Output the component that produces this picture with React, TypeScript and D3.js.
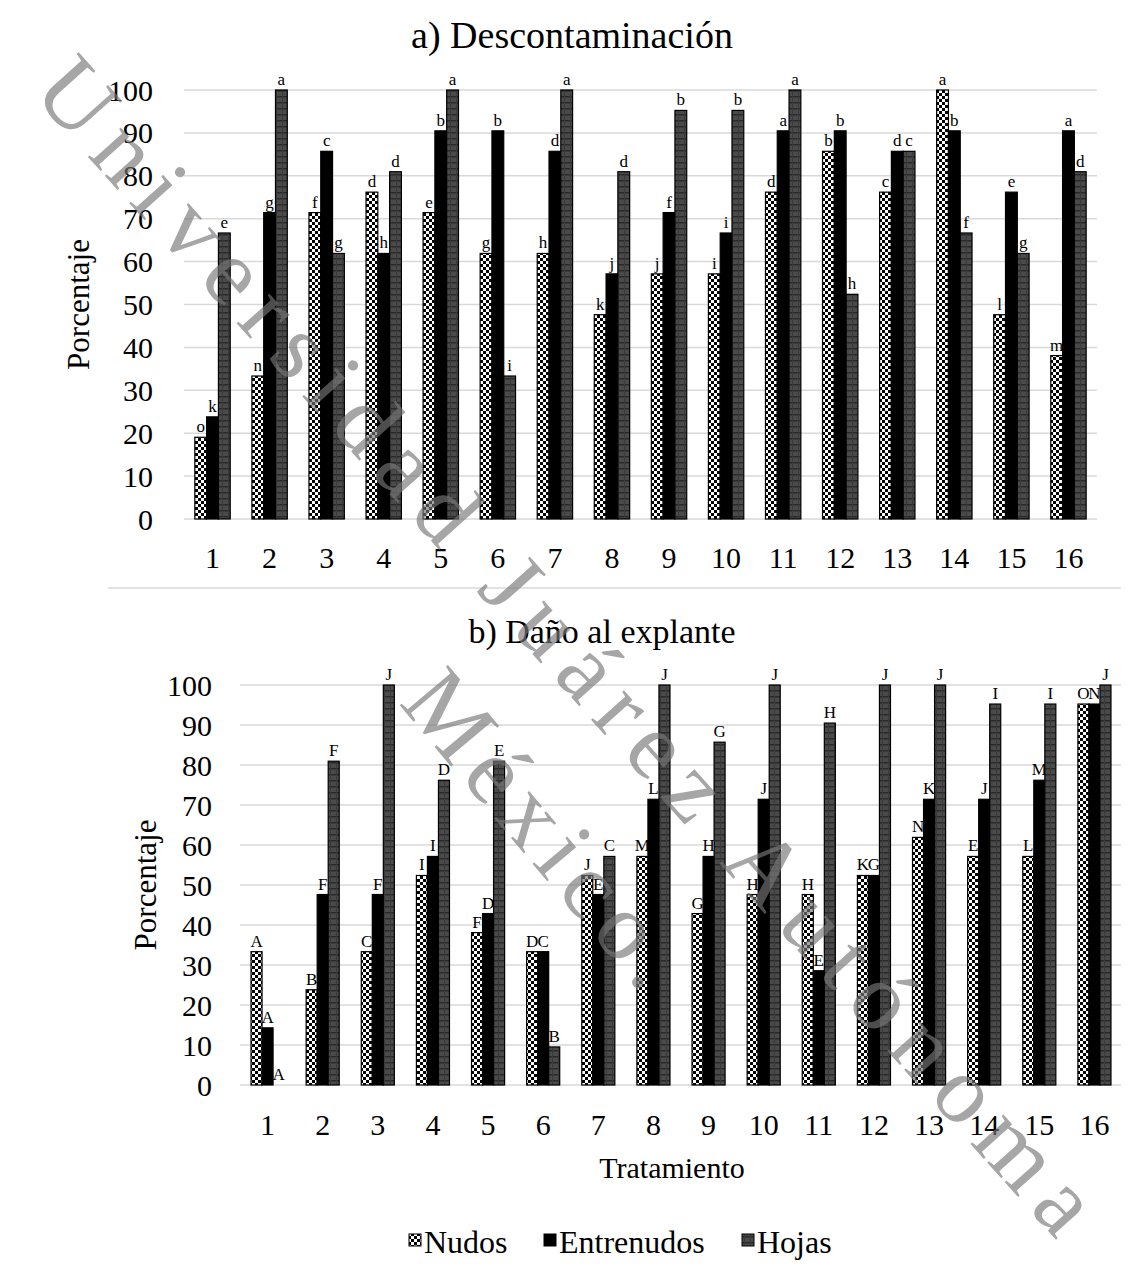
import React from 'react'
import * as d3 from 'd3'

const treatments = ['1', '2', '3', '4', '5', '6', '7', '8', '9', '10', '11', '12', '13', '14', '15', '16']
const seriesNames = ['Nudos', 'Entrenudos', 'Hojas']

// a) Descontaminación
const descNudos = [19.05, 33.33, 71.43, 76.19, 71.43, 61.9, 61.9, 47.62, 57.14, 57.14, 76.19, 85.71, 76.19, 100, 47.62, 38.1]
const descEntrenudos = [23.81, 71.43, 85.71, 61.9, 90.48, 90.48, 85.71, 57.14, 71.43, 66.67, 90.48, 90.48, 85.71, 90.48, 76.19, 90.48]
const descHojas = [66.67, 100, 61.9, 80.95, 100, 33.33, 100, 80.95, 95.24, 95.24, 100, 52.38, 85.71, 66.67, 61.9, 80.95]
const descNudosLetters = ['o', 'n', 'f', 'd', 'e', 'g', 'h', 'k', 'j', 'i', 'd', 'b', 'c', 'a', 'l', 'm']
const descEntrenudosLetters = ['k', 'g', 'c', 'h', 'b', 'b', 'd', 'j', 'f', 'i', 'a', 'b', 'd', 'b', 'e', 'a']
const descHojasLetters = ['e', 'a', 'g', 'd', 'a', 'i', 'a', 'd', 'b', 'b', 'a', 'h', 'c', 'f', 'g', 'd']

// b) Daño al explante
const danoNudos = [33.33, 23.81, 33.33, 52.38, 38.1, 33.33, 52.38, 57.14, 42.86, 47.62, 47.62, 52.38, 61.9, 57.14, 57.14, 95.24]
const danoEntrenudos = [14.29, 47.62, 47.62, 57.14, 42.86, 33.33, 47.62, 71.43, 57.14, 71.43, 28.57, 52.38, 71.43, 71.43, 76.19, 95.24]
const danoHojas = [0, 80.95, 100, 76.19, 80.95, 9.52, 57.14, 100, 85.71, 100, 90.48, 100, 100, 95.24, 95.24, 100]
const danoNudosLetters = ['A', 'B', 'C', 'I', 'F', 'D', 'J', 'M', 'G', 'H', 'H', 'K', 'N', 'E', 'L', 'O']
const danoEntrenudosLetters = ['A', 'F', 'F', 'I', 'D', 'C', 'E', 'L', 'H', 'J', 'E', 'G', 'K', 'J', 'M', 'N']
const danoHojasLetters = ['A', 'F', 'J', 'D', 'E', 'B', 'C', 'J', 'G', 'J', 'H', 'J', 'J', 'I', 'I', 'J']

const yTicks = [0, 10, 20, 30, 40, 50, 60, 70, 80, 90, 100]

const font = '"Liberation Serif", "Times New Roman", serif'
const fills = ['url(#checker)', '#000', 'url(#hojas)']

type PanelProps = {
  title: string
  titleX: number
  titleY: number
  titleSize: number
  values: number[][]
  letters: string[][]
  left: number
  right: number
  top: number
  bottom: number
  tickX: number
  tickLabelY: number
  yTitleX: number
  padding: number
}

function Panel(p: PanelProps) {
  const x = d3.scaleBand().domain(treatments).range([p.left, p.right]).paddingInner(p.padding).paddingOuter(p.padding / 2)
  const xs = d3.scaleBand().domain(seriesNames).range([0, x.bandwidth()])
  const y = d3.scaleLinear().domain([0, 100]).range([p.bottom, p.top])
  const cx = (t: string) => (x(t) as number) + x.bandwidth() / 2

  return (
    <g>
      <text x={p.titleX} y={p.titleY} fontSize={p.titleSize} textAnchor="middle">{p.title}</text>
      {yTicks.map(t => (
        <g key={t}>
          <line x1={p.left} x2={p.right} y1={y(t)} y2={y(t)} stroke="#d9d9d9" strokeWidth={1.5} />
          <text x={p.tickX} y={y(t)} dy="0.35em" fontSize={30} textAnchor="end">{t}</text>
        </g>
      ))}
      <text transform={`translate(${p.yTitleX},${(p.top + p.bottom) / 2}) rotate(-90)`} fontSize={31} textAnchor="middle">Porcentaje</text>
      {treatments.map((t, i) => (
        <g key={t}>
          {seriesNames.map((s, j) => {
            const v = p.values[j][i]
            const bx = (x(t) as number) + (xs(s) as number)
            return (
              <g key={s}>
                {v > 0 && (
                  <rect x={bx} y={y(v)} width={xs.bandwidth()} height={y(0) - y(v)}
                    fill={fills[j]} stroke="#000" strokeWidth={1.2} />
                )}
                <text x={bx + xs.bandwidth() / 2} y={y(v) - 5} fontSize={17} textAnchor="middle">{p.letters[j][i]}</text>
              </g>
            )
          })}
          <text x={cx(t)} y={p.tickLabelY} fontSize={30} textAnchor="middle">{t}</text>
        </g>
      ))}
    </g>
  )
}

export default function App() {
  return (
    <svg width={1129} height={1281} style={{ display: 'block', margin: -8, fontFamily: font }}>
      <defs>
        <pattern id="checker" width={6} height={6} patternUnits="userSpaceOnUse">
          <rect width={6} height={6} fill="#fff" />
          <rect width={3} height={3} fill="#000" />
          <rect x={3} y={3} width={3} height={3} fill="#000" />
        </pattern>
        <pattern id="hojas" width={6} height={6} patternUnits="userSpaceOnUse">
          <rect width={6} height={6} fill="#4a4a4a" />
          <rect width={6} height={1.5} fill="#2a2a2a" />
          <rect width={1} height={6} fill="#3a3a3a" />
        </pattern>
      </defs>
      <rect width={1129} height={1281} fill="#fff" />

      <Panel title="a) Descontaminación" titleX={572} titleY={48} titleSize={38} values={[descNudos, descEntrenudos, descHojas]}
        letters={[descNudosLetters, descEntrenudosLetters, descHojasLetters]}
        left={184} right={1097} top={90} bottom={519} tickX={153} tickLabelY={568} yTitleX={89} padding={0.38} />

      <line x1={108} x2={1129} y1={588} y2={588} stroke="#d9d9d9" strokeWidth={1.5} />

      <Panel title="b) Daño al explante" titleX={602} titleY={643} titleSize={34} values={[danoNudos, danoEntrenudos, danoHojas]}
        letters={[danoNudosLetters, danoEntrenudosLetters, danoHojasLetters]}
        left={240} right={1122} top={685} bottom={1085} tickX={212} tickLabelY={1135} yTitleX={156} padding={0.4} />

      <text x={672} y={1178} fontSize={30} textAnchor="middle">Tratamiento</text>

      {seriesNames.map((s, j) => {
        const lx = [409, 544, 742][j]
        return (
          <g key={s}>
            <rect x={lx} y={1234} width={12} height={12} fill={fills[j]} stroke="#000" strokeWidth={1} />
            <text x={lx + 15} y={1253} fontSize={32}>{s}</text>
          </g>
        )
      })}

      <g fill="#777" opacity={0.65} fontSize={96}>
        <text transform="translate(568,645) rotate(48.2)" textAnchor="middle" dominantBaseline="central"
          textLength={1540} lengthAdjust="spacing">Universidad Juárez Autónoma</text>
        <text transform="translate(545,828) rotate(50)" textAnchor="middle" dominantBaseline="central"
          textLength={380} lengthAdjust="spacing">México.</text>
      </g>
    </svg>
  )
}
